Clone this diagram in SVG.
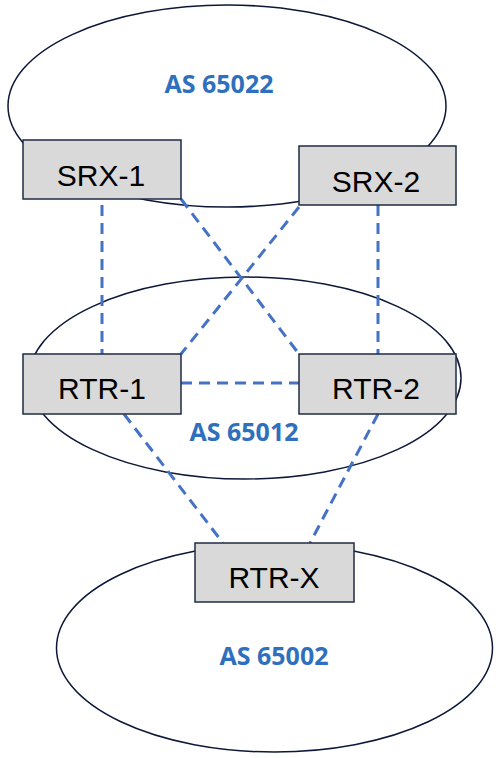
<svg xmlns="http://www.w3.org/2000/svg" width="500" height="758" viewBox="0 0 500 758">
<style>
.as{fill:#ffffff;stroke:#0d1838;stroke-width:1.5}
.box{fill:#d9d9d9;stroke:#1f2a44;stroke-width:1.5}
.lbl{font-family:"Liberation Sans",Arial,sans-serif;font-size:30px;fill:#000;text-anchor:middle}
.asl{font-family:"Open Sans","Liberation Sans",sans-serif;font-weight:bold;font-size:25px;fill:#2e70bd;text-anchor:middle}
.c{stroke:#4472c4;stroke-width:3;stroke-dasharray:11 7;fill:none}
</style>
<g id="as65022"><ellipse class="as" cx="227" cy="106" rx="219" ry="101"/><text class="asl" x="219" y="93">AS 65022</text></g>
<g id="as65012"><ellipse class="as" cx="245" cy="378" rx="216" ry="101"/><text class="asl" x="244" y="441">AS 65012</text></g>
<g id="as65002"><ellipse class="as" cx="274.5" cy="648" rx="218" ry="104"/><text class="asl" x="274" y="665">AS 65002</text></g>
<g id="connectors">
<line class="c" x1="102" y1="205" x2="102" y2="354"/>
<line class="c" x1="378" y1="205" x2="378" y2="354"/>
<line class="c" x1="181" y1="199" x2="299" y2="354"/>
<line class="c" x1="299" y1="207" x2="181" y2="354"/>
<line class="c" x1="181" y1="383" x2="299" y2="383"/>
<line class="c" x1="124" y1="414" x2="223" y2="543"/>
<line class="c" x1="378" y1="414" x2="310" y2="543"/>
</g>
<g id="srx1"><rect class="box" x="23" y="140" width="158" height="59"/><text class="lbl" x="101" y="186">SRX-1</text></g>
<g id="srx2"><rect class="box" x="299" y="146" width="157" height="59"/><text class="lbl" x="376" y="192">SRX-2</text></g>
<g id="rtr1"><rect class="box" x="23" y="354" width="158" height="60"/><text class="lbl" x="102" y="399">RTR-1</text></g>
<g id="rtr2"><rect class="box" x="299" y="354" width="157" height="60"/><text class="lbl" x="376" y="399">RTR-2</text></g>
<g id="rtrx"><rect class="box" x="195" y="543" width="159" height="59"/><text class="lbl" x="274" y="588">RTR-X</text></g>
</svg>
